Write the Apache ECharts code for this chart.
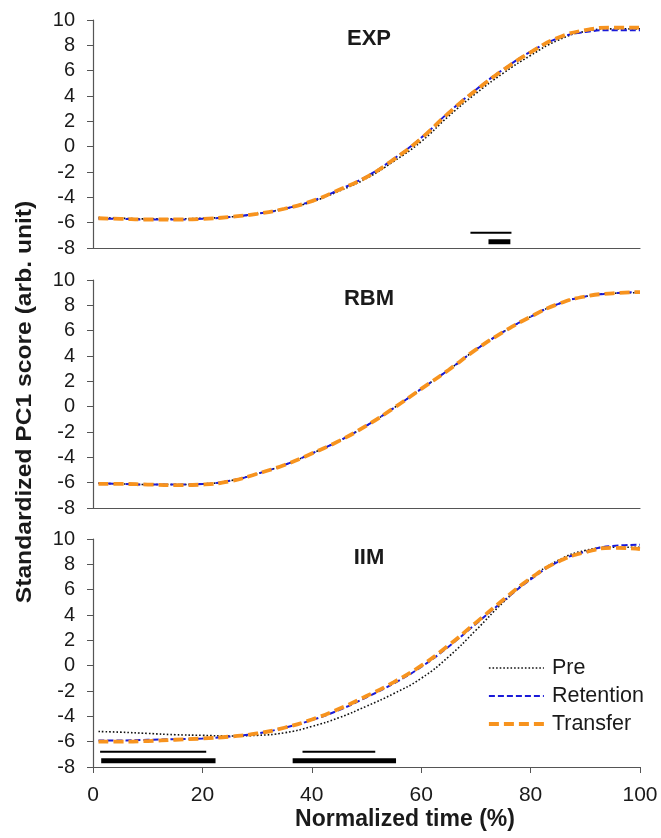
<!DOCTYPE html>
<html>
<head>
<meta charset="utf-8">
<script src="https://cdn.jsdelivr.net/npm/echarts@6/dist/echarts.min.js"></script>
<style>
html, body { margin: 0; padding: 0; background: #fff; }
#chart { width: 661px; height: 838px; }
</style>
</head>
<body>
<div id="chart"></div>
<script>
// normalized time (%)
var xs = [1, 5, 10, 15, 20, 25, 30, 35, 40, 45, 50, 55, 60, 65, 70, 75, 80, 85, 90, 95, 100];

// EXP
var expPre = [-5.6, -5.65, -5.7, -5.7, -5.65, -5.55, -5.3, -4.9, -4.35, -3.5, -2.5, -1.15, 0.4, 2.4, 4.2, 5.8, 7.2, 8.4, 9.1, 9.3, 9.3];
var expRet = [-5.7, -5.7, -5.75, -5.75, -5.7, -5.55, -5.3, -4.9, -4.3, -3.4, -2.35, -0.95, 0.7, 2.7, 4.5, 6.1, 7.5, 8.55, 9.05, 9.2, 9.2];
var expTra = [-5.65, -5.7, -5.75, -5.75, -5.7, -5.55, -5.3, -4.9, -4.3, -3.4, -2.4, -1.0, 0.65, 2.65, 4.45, 6.05, 7.45, 8.6, 9.2, 9.4, 9.4];

// RBM
var rbmPre = [-6.05, -6.1, -6.15, -6.15, -6.1, -5.85, -5.3, -4.6, -3.7, -2.7, -1.5, -0.1, 1.4, 2.9, 4.5, 5.9, 7.1, 8.1, 8.7, 8.95, 9.0];
var rbmRet = [-6.05, -6.1, -6.15, -6.15, -6.1, -5.85, -5.3, -4.6, -3.7, -2.7, -1.5, -0.1, 1.4, 2.9, 4.5, 5.9, 7.1, 8.1, 8.7, 8.95, 9.05];
var rbmTra = [-6.1, -6.1, -6.15, -6.2, -6.15, -5.9, -5.3, -4.6, -3.7, -2.7, -1.5, -0.1, 1.4, 2.9, 4.5, 5.9, 7.1, 8.1, 8.7, 8.95, 9.05];

// IIM
var iimPre = [-5.2, -5.25, -5.35, -5.45, -5.5, -5.55, -5.5, -5.3, -4.8, -4.1, -3.2, -2.2, -1.0, 0.7, 2.8, 5.0, 6.9, 8.3, 9.1, 9.35, 9.35];
var iimRet = [-5.9, -5.9, -5.85, -5.8, -5.75, -5.6, -5.35, -4.9, -4.3, -3.5, -2.5, -1.4, -0.1, 1.5, 3.3, 5.1, 6.8, 8.2, 9.0, 9.45, 9.55];
var iimTra = [-6.0, -6.0, -5.95, -5.85, -5.75, -5.6, -5.35, -4.9, -4.25, -3.4, -2.4, -1.3, 0.0, 1.6, 3.4, 5.2, 6.9, 8.2, 8.95, 9.3, 9.2];

// significance bars [start, end] in % of time
var expThin = [[69, 76.5]];
var expThick = [[72.3, 76.3]];
var iimThin = [[1.3, 20.7], [38.3, 51.6]];
var iimThick = [[1.5, 22.4], [36.5, 55.4]];
var thinLevel = -6.8;
var thickLevel = -7.5;

var panels = ['EXP', 'RBM', 'IIM'];
var curves = [
    [expPre, expRet, expTra],
    [rbmPre, rbmRet, rbmTra],
    [iimPre, iimRet, iimTra]
];
var names = ['Pre', 'Retention', 'Transfer'];
var styles = [
    {color: '#111111', width: 1.6, type: [1.6, 2]},
    {color: '#1a1ad8', width: 2, type: [6, 3]},
    {color: '#f7931e', width: 3.8, type: [10, 5]}
];

var font = '"Liberation Sans", Arial, sans-serif';
var tops = [20, 280, 539];
var grids = [], xAxes = [], yAxes = [], titles = [], series = [];

function zip(vals) {
    return xs.map(function (x, i) { return [x, vals[i]]; });
}

panels.forEach(function (p, g) {
    var last = g === 2;
    grids.push({left: 93, right: 21, top: tops[g], height: 228});
    xAxes.push({
        type: 'value', gridIndex: g, min: 0, max: 100, interval: 20,
        axisLine: {show: true, onZero: false, lineStyle: {color: '#555', width: 1.2}},
        axisTick: {show: last, length: 6, lineStyle: {color: '#555'}},
        axisLabel: {show: last, fontSize: 21, color: '#1a1a1a', fontFamily: font, margin: 18},
        splitLine: {show: false}
    });
    yAxes.push({
        type: 'value', gridIndex: g, min: -8, max: 10, interval: 2,
        axisLine: {show: true, lineStyle: {color: '#555', width: 1.2}},
        axisTick: {show: true, length: 6, lineStyle: {color: '#555'}},
        axisLabel: {fontSize: 20, color: '#1a1a1a', fontFamily: font, margin: 18},
        splitLine: {show: false}
    });
    titles.push({
        text: p, left: 364, top: tops[g] + 3, textAlign: 'center',
        textStyle: {fontSize: 22, fontWeight: 'bold', color: '#1a1a1a', fontFamily: font}
    });
    curves[g].forEach(function (vals, k) {
        series.push({
            name: names[k], type: 'line', xAxisIndex: g, yAxisIndex: g,
            data: zip(vals), smooth: true, symbol: 'none', z: 3 + k,
            lineStyle: styles[k], itemStyle: {color: styles[k].color}
        });
    });
});

function addBars(list, level, width, g) {
    list.forEach(function (b) {
        series.push({
            type: 'line', xAxisIndex: g, yAxisIndex: g, symbol: 'none', silent: true,
            data: [[b[0], level], [b[1], level]],
            lineStyle: {color: '#000', width: width}
        });
    });
}
addBars(expThin, thinLevel, 2, 0);
addBars(expThick, thickLevel, 5, 0);
addBars(iimThin, thinLevel, 2, 2);
addBars(iimThick, thickLevel, 5, 2);

var option = {
    animation: false,
    backgroundColor: '#fff',
    title: titles,
    grid: grids,
    xAxis: xAxes,
    yAxis: yAxes,
    legend: {
        data: names.map(function (n, k) {
            return {name: n, lineStyle: {width: styles[k].width, type: styles[k].type}};
        }),
        orient: 'vertical', left: 487, top: 657, padding: 0,
        itemWidth: 55, itemHeight: 14, itemGap: 6,
        itemStyle: {opacity: 0, borderWidth: 0},
        textStyle: {fontSize: 21.5, color: '#1a1a1a', fontFamily: font, padding: [0, 0, 0, 3]}
    },
    graphic: [
        {
            type: 'text', x: 25, y: 402, rotation: Math.PI / 2, scaleX: 1.12,
            style: {
                text: 'Standardized PC1 score (arb. unit)', fontSize: 22, fontWeight: 'bold',
                fontFamily: font, fill: '#1a1a1a', align: 'center', verticalAlign: 'middle'
            }
        },
        {
            type: 'text', x: 405, y: 820,
            style: {
                text: 'Normalized time (%)', fontSize: 23, fontWeight: 'bold',
                fontFamily: font, fill: '#1a1a1a', align: 'center', verticalAlign: 'middle'
            }
        }
    ],
    series: series
};

var myChart = echarts.init(document.getElementById('chart'));
myChart.setOption(option);
</script>
</body>
</html>
